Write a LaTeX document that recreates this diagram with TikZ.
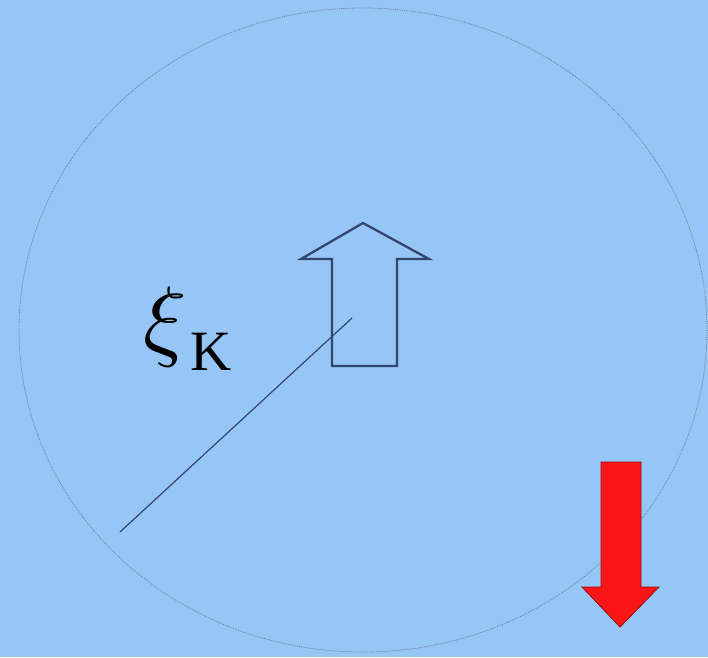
\documentclass[tikz,border=0pt]{standalone}
\usepackage{fontspec}
\usepackage{unicode-math}
\setmainfont{Liberation Serif}
\usepackage{xcolor}
\usepackage{tikz}
\usetikzlibrary{calc}
\definecolor{skyback}{RGB}{150,198,246}
\definecolor{rimgray}{RGB}{105,125,155}
\definecolor{spinblue}{RGB}{50,70,110}
\definecolor{spinred}{RGB}{250,22,22}

\begin{document}
\begin{tikzpicture}[x=1pt, y=-1pt]
  \fill[skyback] (0,0) rectangle (708,657);
  \useasboundingbox (0,0) rectangle (708,657);
  \draw[rimgray, line width=.8pt, densely dotted] (363,330) ellipse [x radius=344, y radius=322];
  \coordinate (tail) at (120,532);
  \coordinate (head) at (352,318);
  \draw[spinblue, line width=1.2pt] (tail) -- (head);
  \draw[spinblue, line width=2.3pt, line join=miter] (332,366) -- (332,259) -- (301,259) -- (363,223) -- (429,259) -- (397,259) -- (397,366) -- cycle;
  \draw[spinred!60!black, fill=spinred, line width=.8pt] (601,462) -- (641,462) -- (641,587) -- (659,587) -- (620,627) -- (582,587) -- (601,587) -- cycle;
  \node[anchor=base west, inner sep=0] (xi) at (143,349) {\fontsize{90}{96}\selectfont $\mupxi$};
  \node[anchor=base west, inner sep=0] (kk) at (190,370) {\fontsize{57}{60}\selectfont K};
\end{tikzpicture}
\end{document}
